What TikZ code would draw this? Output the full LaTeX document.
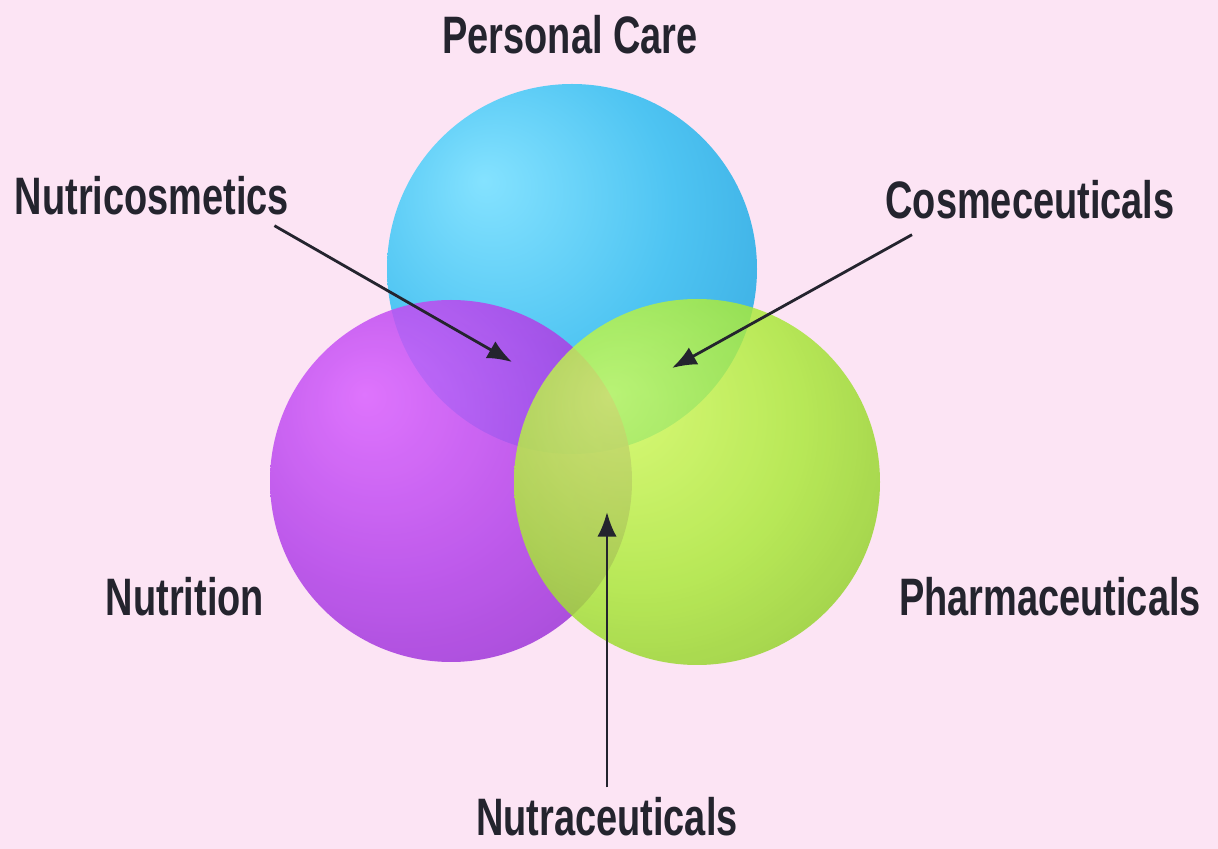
\documentclass[tikz,border=0pt]{standalone}
\usepackage{fontspec}
\setmainfont[FakeStretch=0.72]{Liberation Sans}
\usepackage{xcolor}
\usetikzlibrary{positioning,arrows.meta}
\definecolor{pagepink}{HTML}{FCE4F4}
\definecolor{labelcol}{HTML}{24242E}
\definecolor{bluehi}{HTML}{84E2FF}
\definecolor{bluemid}{HTML}{4EC4F2}
\definecolor{bluelo}{HTML}{2C9AD6}
\definecolor{purphi}{HTML}{DA62FF}
\definecolor{purpmid}{HTML}{B444EA}
\definecolor{purplo}{HTML}{8426C2}
\definecolor{greenhi}{HTML}{D2FF5C}
\definecolor{greenmid}{HTML}{AAEA36}
\definecolor{greenlo}{HTML}{74B418}
\pgfdeclareradialshading{bluesph}{\pgfpoint{-12bp}{12bp}}
  {color(0bp)=(bluehi); color(22bp)=(bluemid); color(50bp)=(bluelo); color(70bp)=(bluelo)}
\pgfdeclareradialshading{purpsph}{\pgfpoint{-12bp}{12bp}}
  {color(0bp)=(purphi); color(22bp)=(purpmid); color(50bp)=(purplo); color(70bp)=(purplo)}
\pgfdeclareradialshading{greensph}{\pgfpoint{-12bp}{12bp}}
  {color(0bp)=(greenhi); color(22bp)=(greenmid); color(50bp)=(greenlo); color(70bp)=(greenlo)}
\tikzset{
  arealabel/.style = {font=\fontsize{30}{32}\selectfont\bfseries, color=labelcol,
                      inner sep=0pt},
  pointer/.style   = {-{Latex[length=14pt,width=11pt]}, draw=labelcol,
                      line width=1.6pt},
}

\begin{document}
\begin{tikzpicture}[x=0.02cm, y=0.02cm]
    \fill[pagepink] (0,0) rectangle (1218,849);
    \useasboundingbox (0,0) rectangle (1218,849);

    % ---------------- spheres
    \shade[shading=bluesph] (572,580) circle (185);
    \shade[shading=purpsph, fill opacity=0.86] (451,368) circle (181);
    \shade[shading=greensph, fill opacity=0.82] (697,367) circle (183);

    % ---------------- labels
    \node[arealabel] (care)  at (570,814) {Personal Care};
    \node[arealabel] (nutco) at (152,653) {Nutricosmetics};
    \node[arealabel] (cosme) at (1030,649) {Cosmeceuticals};
    \node[arealabel] (nutri) at (185,252) {Nutrition};
    \node[arealabel] (pharm) at (1050,252) {Pharmaceuticals};
    \node[arealabel] (nutra) at (607,32) {Nutraceuticals};

    % ---------------- pointers
    \coordinate (nutcoend) at (512,487);
    \coordinate (cosmeend) at (672,481);
    \coordinate (nutraend) at (607,337);
    \draw[pointer] ([xshift=-0.3cm,yshift=-0.2cm]nutco.south east) -- (nutcoend);
    \draw[pointer] ([xshift=-2.36cm,yshift=-0.3cm]cosme.south) -- (cosmeend);
    \draw[pointer] ([yshift=0.2cm]nutra.north) -- (nutraend);
  \end{tikzpicture}
\end{document}
